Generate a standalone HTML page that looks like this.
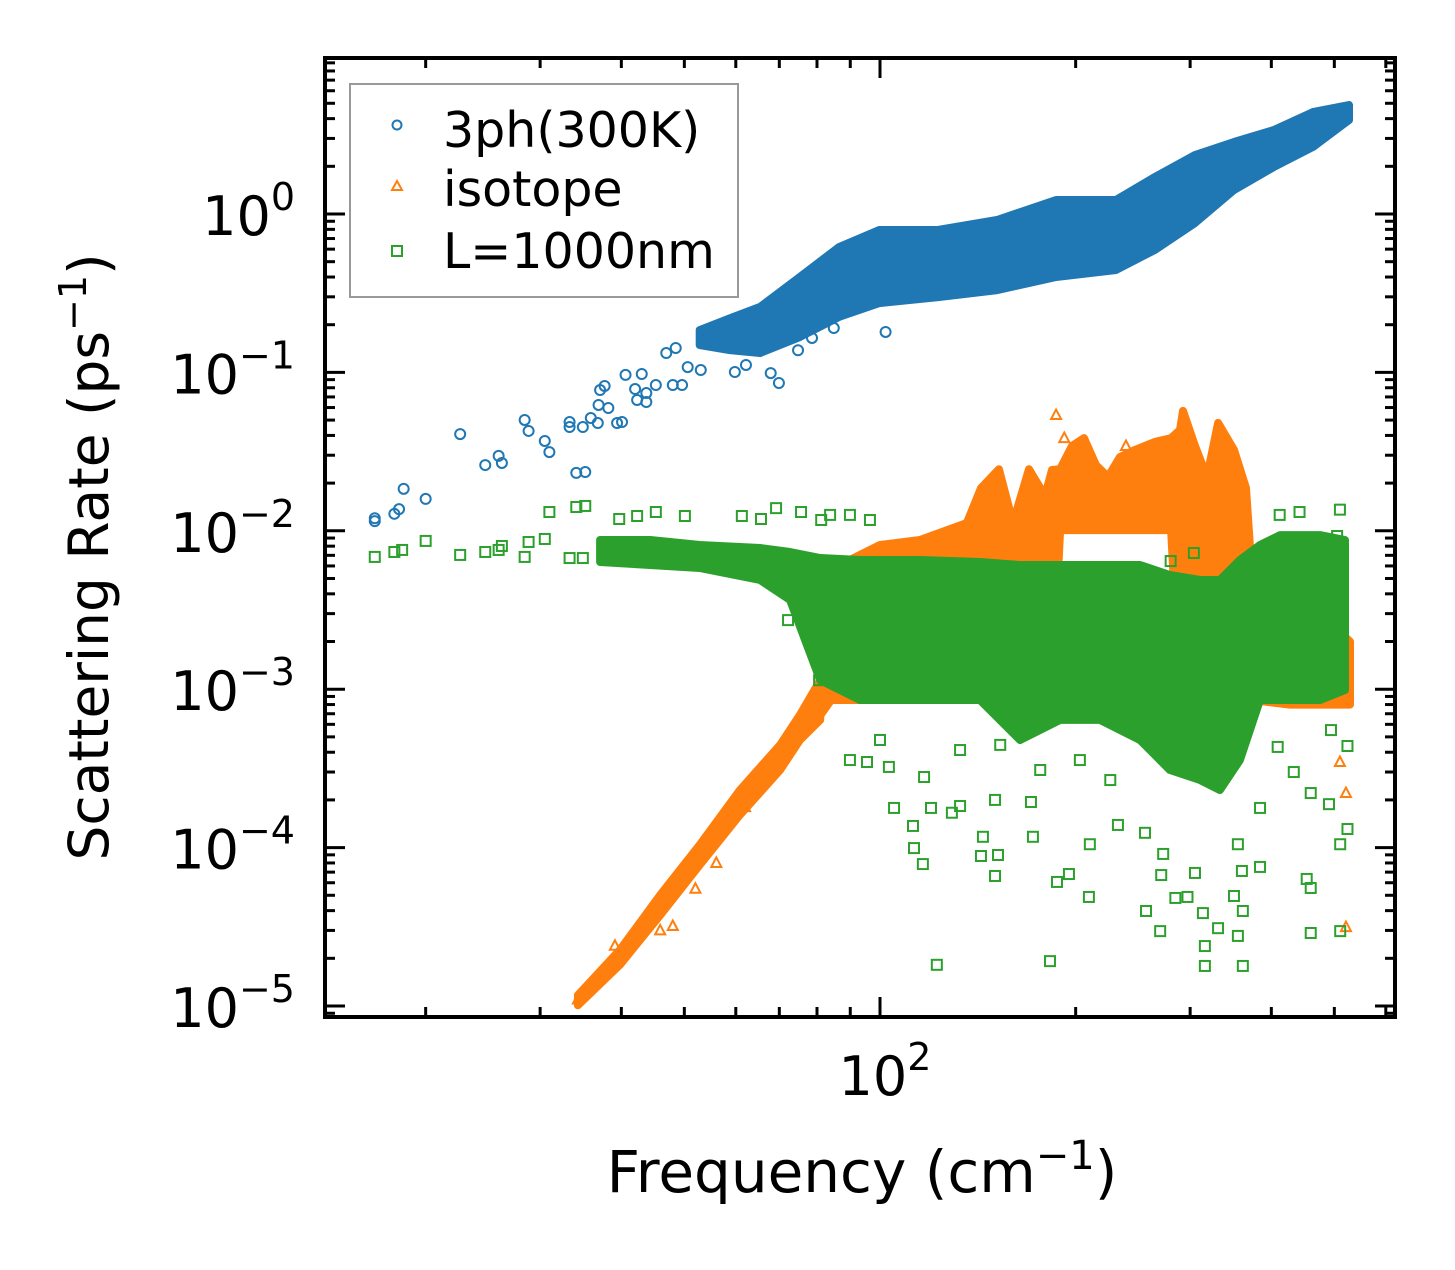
<!DOCTYPE html>
<html><head><meta charset="utf-8"><style>
html,body{margin:0;padding:0;background:#fff;}
svg text{font-family:"DejaVu Sans","Liberation Sans",sans-serif;fill:#000;}
</style></head><body>
<svg id="chart" width="1455" height="1265" xmlns="http://www.w3.org/2000/svg">
<g id="bands"></g>
<g id="marks"></g>
<g id="axes"></g>
<text x="862" y="1192" font-size="58" text-anchor="middle">Frequency (cm<tspan font-size="40" dy="-23">−1</tspan><tspan dy="23">)</tspan></text>
<text transform="translate(108,557) rotate(-90)" font-size="55" text-anchor="middle">Scattering Rate (ps<tspan font-size="38" dy="-22">−1</tspan><tspan dy="22">)</tspan></text>
<g>
<rect x="350" y="84" width="388" height="213" fill="#fff" stroke="#999" stroke-width="2"/>
<g><circle cx="397" cy="125" r="4.5" fill="none" stroke="#1f77b4" stroke-width="2"/><text x="443" y="147" font-size="49">3ph(300K)</text></g>
<g><polygon points="397,181 402,190 392,190" fill="none" stroke="#ff7f0e" stroke-width="2"/><text x="443" y="206" font-size="49">isotope</text></g>
<g><rect x="392" y="246" width="10" height="10" fill="none" stroke="#2ca02c" stroke-width="2"/><text x="443" y="268" font-size="49">L=1000nm</text></g>
</g>
</svg>
<script>
// ---- data ----
const blueF=[16.7,16.7,17.9,18.2,18.5,20.0,22.6,24.7,25.9,26.2,28.4,28.8,30.5,31.0,34.1,35.2,33.3,33.3,34.9,35.9,36.8,36.9,38.2,39.4,40.1,37.1,37.7,40.6,43.0,42.0,43.7,43.7,42.3,45.2,48.0,49.6,46.9,48.5,50.6,53.0,55.9,59.8,59.8,62.2,67.9,69.9,74.8,78.6,84.9,102];
const blueV=[0.0120,0.0115,0.0128,0.0137,0.0184,0.0159,0.0408,0.0260,0.0297,0.0268,0.0501,0.0427,0.0369,0.0314,0.0232,0.0235,0.0486,0.0452,0.0452,0.0515,0.0479,0.0623,0.0596,0.0479,0.0486,0.0774,0.0821,0.0964,0.0977,0.0785,0.0741,0.0650,0.0670,0.0832,0.0832,0.0832,0.1325,0.1426,0.108,0.1035,0.165,0.199,0.1006,0.1114,0.099,0.0857,0.138,0.165,0.1906,0.18];
const blueBandF=[52.8,58.8,65.4,75.3,86.5,99.7,122.8,151.4,186.6,230.7,264.8,305.2,350.4,403.6,463.4,526.6];
const blueBandHi=[0.185,0.220,0.259,0.400,0.619,0.793,0.793,0.917,1.226,1.226,1.713,2.358,2.848,3.39,4.40,4.88];
const blueBandLo=[0.149,0.138,0.1325,0.1673,0.224,0.274,0.299,0.331,0.400,0.443,0.593,0.877,1.417,1.98,2.65,3.92];

const orangeF=[34.3,35.5,37,39.1,42,45.9,48,52,56,62,68,186.6,192.1,239,521,521,510];
const orangeV=[1.1e-5,1.3e-5,1.5e-5,2.4e-5,2.8e-5,3.0e-5,3.2e-5,5.5e-5,8e-5,1.8e-4,3e-4,0.0538,0.0385,0.0343,2.21e-4,3.15e-5,3.47e-4];
const orangeLineF=[34.3,39.8,45.9,52.8,60.9,70.2,75.3,80.9];
const orangeLineHi=[1.17e-5,2.26e-5,5.02e-5,1.04e-4,2.31e-4,4.45e-4,6.87e-4,1.14e-3];
const orangeLineLo=[1.01e-5,1.82e-5,3.75e-5,7.76e-5,1.61e-4,3.09e-4,4.78e-4,6.4e-4];
const orangeBandF=[80.0,84.1,89.9,100,115.2,136.0,143.0,152.4,160.2,169.5,179.4,183.9,189.3,197.4,206.0,214.9,224.3,233.9,246.8,264.8,280.4,289.4,292.5,305.2,318.5,331.2,350.4,365.6,373.6,427.4,475.3,528.5];
const orangeBandHi=[0.000989,0.00205,0.00654,0.00813,0.00875,0.0112,0.0186,0.0245,0.0112,0.0245,0.0166,0.0242,0.0245,0.0343,0.0385,0.0260,0.0219,0.0292,0.0324,0.0364,0.0385,0.0433,0.0571,0.0343,0.0219,0.048,0.0324,0.0186,0.005,0.003,0.003,0.002];
const orangeBandLo=[0.00064,0.000855,0.000855,0.000855,0.000855,0.000855,0.000855,0.000855,0.000855,0.000855,0.000855,0.000855,0.0101,0.0101,0.0101,0.0101,0.0101,0.0101,0.0101,0.0101,0.0101,0.000855,0.000855,0.000855,0.000855,0.000855,0.000855,0.000855,0.000855,0.0008,0.0008,0.0008];

const greenF=[16.7,17.9,18.4,20.0,22.6,24.7,25.9,26.2,28.4,28.8,30.5,31.0,34.1,35.2,33.3,34.9,39.7,42.3,45.2,50.1,61.3,65.6,69.2,75.6,81.2,89.9,83.8,96.5,412,510,95.5,103.2,116.9,105.1,119.8,129.0,132.8,112.4,112.8,116.4,122.3,144.0,143.0,151.9,150.3,150.3,170.7,171.9,187.2,195.3,182.6,209.6,210.3,232.3,255.7,256.6,269.8,270.8,272.7,284.7,297.2,305.2,313.9,316.1,316.1,331.2,355.3,361.6,361.6,350.4,360.4,384.3,355.3,384.3,409.1,453.4,459.9,459.9,510.5,510.5,523.8,523.8,459.9,490.6,433.1,494.1,80.6,80.6,72.2,304,505,442,280,89.9,100,132.8,153.1,176.4,203.0,226.1];
const greenV=[0.00684,0.00735,0.00757,0.00863,0.00704,0.00735,0.00757,0.00802,0.00684,0.00850,0.00888,0.01314,0.01413,0.01435,0.00673,0.00673,0.01187,0.0124,0.01314,0.0124,0.0124,0.01187,0.0139,0.01314,0.0117,0.0126,0.0126,0.0117,0.0126,0.0136,3.47e-4,3.23e-4,2.79e-4,1.78e-4,1.78e-4,1.66e-4,1.83e-4,1.37e-4,9.93e-5,7.87e-5,1.82e-5,1.17e-4,8.85e-5,8.98e-5,6.62e-5,2.0e-4,1.94e-4,1.17e-4,6.07e-5,6.81e-5,1.92e-5,4.88e-5,1.05e-4,1.39e-4,1.24e-4,3.98e-5,2.97e-5,6.71e-5,9.12e-5,4.81e-5,4.88e-5,6.92e-5,3.86e-5,2.39e-5,1.79e-5,3.1e-5,2.77e-5,1.79e-5,3.98e-5,4.95e-5,7.12e-5,7.55e-5,1.05e-4,1.78e-4,4.32e-4,6.34e-5,5.56e-5,2.89e-5,2.97e-5,1.05e-4,1.31e-4,4.38e-4,2.21e-4,1.88e-4,3.0e-4,5.52e-4,1.79e-3,1.14e-3,2.73e-3,0.00724,0.00927,0.01314,0.00644,3.57e-4,4.78e-4,4.13e-4,4.45e-4,3.09e-4,3.57e-4,2.67e-4];
const greenBandF=[37.1,44.3,52.8,65.4,72.7,80.9,93.2,115.2,142.5,164.2,189.3,218.0,251.2,279.3,310.7,333.4,357.9,384.3,412.6,475.3,519.3];
const greenBandHi=[0.00875,0.00875,0.00813,0.00779,0.00735,0.00673,0.00654,0.00654,0.00635,0.00608,0.00608,0.00608,0.00608,0.00526,0.00489,0.00489,0.00654,0.00813,0.0094,0.0094,0.00875];
const greenBandLo=[0.00635,0.00608,0.00582,0.00489,0.00366,0.00114,0.000855,0.000855,0.000855,0.000478,0.00064,0.00064,0.000478,0.000309,0.000267,0.000231,0.000357,0.000855,0.000855,0.000855,0.000989];

const yTickExp=[0,-1,-2,-3,-4,-5];
const xTickLabels=["10","2"];

// ---- scales ----
const X0=325,X1=1395,Y0=58,Y1=1017;
const xD=650, x100=880;
function sx(f){return x100+(Math.log10(f)-2)*xD;}
const yD=158.4, y1=214;
function sy(v){return y1-Math.log10(v)*yD;}
const NS="http://www.w3.org/2000/svg";
function mk(t,a,p){const e=document.createElementNS(NS,t);for(const k in a)e.setAttribute(k,a[k]);p.appendChild(e);return e;}
const bands=document.getElementById('bands'),marks=document.getElementById('marks'),axes=document.getElementById('axes');
const layers={};
['blue','orange','green'].forEach(k=>{layers[k]=mk('g',{},bands);});

function band(F,H,L,col,name,layer){
  let pts=[];
  for(let i=0;i<F.length;i++)pts.push(sx(F[i]).toFixed(1)+','+sy(H[i]).toFixed(1));
  for(let i=F.length-1;i>=0;i--)pts.push(sx(F[i]).toFixed(1)+','+sy(L[i]).toFixed(1));
  const p=mk('polygon',{points:pts.join(' '),fill:col,stroke:col,'stroke-width':8,'stroke-linejoin':'round'},layers[layer]);
  
  
}
function pts(F,V,col,shape,name,layer){
  const g=mk('g',{},layers[layer]);
  
  
  for(let i=0;i<F.length;i++){
    const x=sx(F[i]),y=sy(V[i]);
    if(shape==='c')mk('circle',{cx:x,cy:y,r:5,fill:'none',stroke:col,'stroke-width':2},g);
    else if(shape==='t')mk('polygon',{points:`${x},${y-5.5} ${x+5},${y+4} ${x-5},${y+4}`,fill:'none',stroke:col,'stroke-width':2},g);
    else mk('rect',{x:x-5,y:y-5,width:10,height:10,fill:'none',stroke:col,'stroke-width':2},g);
  }
}
band(blueBandF,blueBandHi,blueBandLo,'#1f77b4','band-3ph','blue');
pts(blueF,blueV,'#1f77b4','c','series-3ph','blue');
band(orangeLineF,orangeLineHi,orangeLineLo,'#ff7f0e','band-isotope-low','orange');
band(orangeBandF,orangeBandHi,orangeBandLo,'#ff7f0e','band-isotope','orange');
pts(orangeF,orangeV,'#ff7f0e','t','series-isotope','orange');
band(greenBandF,greenBandHi,greenBandLo,'#2ca02c','band-boundary','green');
pts(greenF,greenV,'#2ca02c','s','series-boundary','green');

// ---- axes ----
mk('rect',{x:X0,y:Y0,width:X1-X0,height:Y1-Y0,fill:'none',stroke:'#000','stroke-width':4},axes);
function line(a,b,c,d){mk('line',{x1:a,y1:b,x2:c,y2:d,stroke:'#000','stroke-width':3},axes);}
for(let e=-6;e<=0;e++){
  const y=sy(Math.pow(10,e));
  if(y<=Y1&&y>=Y0){line(X0,y,X0+20,y);line(X1,y,X1-20,y);}
  for(let m=2;m<=9;m++){const yy=sy(m*Math.pow(10,e));if(yy<Y0||yy>Y1)continue;line(X0,yy,X0+10,yy);line(X1,yy,X1-10,yy);}
}
yTickExp.forEach(e=>{
  const t=mk('text',{x:X0-30,y:sy(Math.pow(10,e))+21,'font-size':54,'text-anchor':'end'},axes);
  
  
  t.innerHTML='10<tspan font-size="38" dy="-25">'+(e===0?'0':'−'+(-e))+'</tspan>';
});
for(const f of [20,30,40,50,60,70,80,90,200,300,400,500,600]){const x=sx(f);if(x>X1)continue;line(x,Y1,x,Y1-10);line(x,Y0,x,Y0+10);}
line(sx(100),Y1,sx(100),Y1-20);line(sx(100),Y0,sx(100),Y0+20);
const xt=mk('text',{x:sx(100)+5,y:Y1+78,'font-size':54,'text-anchor':'middle'},axes);


xt.innerHTML=xTickLabels[0]+'<tspan font-size="38" dy="-25">'+xTickLabels[1]+'</tspan>';
</script>
</body></html>
